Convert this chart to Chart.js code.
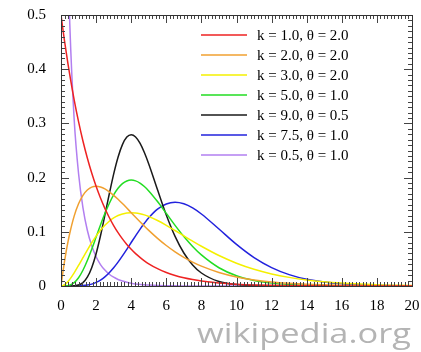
<!DOCTYPE html>
<html>
<head>
<meta charset="utf-8">
<title>Gamma distribution pdf</title>
<script src="https://cdn.jsdelivr.net/npm/chart.js@4"></script>
<style>
  html, body { margin: 0; padding: 0; background: #fff; }
  #wrap { width: 421px; height: 352px; position: relative; }
</style>
</head>
<body>
<div id="wrap"><canvas id="gamma-chart" width="421" height="352"></canvas></div>
<script>
// values
const xs = [0, 0.1, 0.2, 0.3, 0.4, 0.5, 0.75, 1, 1.25, 1.5, 1.75, 2, 2.25, 2.5, 2.75, 3, 3.25, 3.5, 3.75, 4,
    4.25, 4.5, 4.75, 5, 5.5, 6, 6.5, 7, 7.5, 8, 9, 10, 11, 12, 13, 14, 16, 18, 20];

const k1t2 = [0.5, 0.4756, 0.4524, 0.4304, 0.4094, 0.3894, 0.3436, 0.3033, 0.2676, 0.2362, 0.2084, 0.1839, 0.1623,
    0.1433, 0.1264, 0.1116, 0.0985, 0.0869, 0.0767, 0.0677, 0.0597, 0.0527, 0.0465, 0.0410, 0.0320, 0.0249,
    0.0194, 0.0151, 0.0118, 0.0092, 0.0056, 0.0034, 0.0020, 0.0012, 0.0008, 0.0005, 0.0002, 0.0001, 0];
const k2t2 = [0, 0.0238, 0.0452, 0.0646, 0.0819, 0.0974, 0.1289, 0.1516, 0.1673, 0.1771, 0.1824, 0.1839, 0.1826,
    0.1791, 0.1738, 0.1673, 0.1600, 0.1521, 0.1438, 0.1353, 0.1269, 0.1186, 0.1105, 0.1026, 0.0879, 0.0747,
    0.0630, 0.0528, 0.0441, 0.0366, 0.0250, 0.0168, 0.0112, 0.0074, 0.0049, 0.0032, 0.0013, 0.0006, 0.0002];
const k3t2 = [0, 0.0006, 0.0023, 0.0048, 0.0082, 0.0122, 0.0242, 0.0379, 0.0523, 0.0664, 0.0798, 0.0920, 0.1027,
    0.1119, 0.1195, 0.1255, 0.1300, 0.1330, 0.1348, 0.1353, 0.1348, 0.1334, 0.1312, 0.1283, 0.1209, 0.1120,
    0.1024, 0.0925, 0.0827, 0.0733, 0.0562, 0.0421, 0.0309, 0.0223, 0.0159, 0.0112, 0.0054, 0.0025, 0.0011];
const k5t1 = [0, 0, 0.0001, 0.0003, 0.0007, 0.0016, 0.0062, 0.0153, 0.0291, 0.0471, 0.0679, 0.0902, 0.1126,
    0.1336, 0.1523, 0.1680, 0.1802, 0.1888, 0.1938, 0.1954, 0.1939, 0.1898, 0.1835, 0.1755, 0.1558, 0.1339,
    0.1118, 0.0912, 0.0729, 0.0573, 0.0337, 0.0189, 0.0102, 0.0053, 0.0027, 0.0013, 0.0003, 0.0001, 0];
const k9t05 = [0, 0, 0, 0, 0, 0, 0.0003, 0.0017, 0.0062, 0.0162, 0.0337, 0.0595, 0.0927,
    0.1306, 0.1697, 0.2065, 0.2376, 0.2608, 0.2747, 0.2792, 0.2750, 0.2635, 0.2463, 0.2252, 0.1776, 0.1310,
    0.0915, 0.0609, 0.0389, 0.0240, 0.0083, 0.0026, 0.0008, 0.0002, 0.0001, 0, 0, 0, 0];
const k75t1 = [0, 0, 0, 0, 0, 0, 0, 0.0002, 0.0007, 0.0017, 0.0035, 0.0066, 0.0110,
    0.0169, 0.0245, 0.0336, 0.0440, 0.0555, 0.0677, 0.0802, 0.0926, 0.1046, 0.1157, 0.1258, 0.1418, 0.1514,
    0.1545, 0.1517, 0.1441, 0.1329, 0.1051, 0.0767, 0.0524, 0.0340, 0.0210, 0.0125, 0.0040, 0.0012, 0.0003];
const k05t1 = [null, 1.6143, 1.0329, 0.7631, 0.5980, 0.4839, 0.3077, 0.2076, 0.1446, 0.1028, 0.0741, 0.0540, 0.0396,
    0.0293, 0.0217, 0.0162, 0.0121, 0.0091, 0.0069, 0.0052, 0.0039, 0.0030, 0.0022, 0.0017, 0.0010, 0.0006,
    0.0003, 0.0002, 0.0001, 0.0001, 0, 0, 0, 0, 0, 0, 0, 0, 0];

const seriesLabels = ["k = 1.0, θ = 2.0", "k = 2.0, θ = 2.0", "k = 3.0, θ = 2.0", "k = 5.0, θ = 1.0",
    "k = 9.0, θ = 0.5", "k = 7.5, θ = 1.0", "k = 0.5, θ = 1.0"];
const seriesValues = [k1t2, k2t2, k3t2, k5t1, k9t05, k75t1, k05t1];
const seriesColors = ["#ee2222", "#f0a030", "#f4f000", "#22dd22", "#1a1a1a", "#2222dd", "#b27ff0"];

const xTicks = [0, 2, 4, 6, 8, 10, 12, 14, 16, 18, 20];
const yTicks = [0, 0.1, 0.2, 0.3, 0.4, 0.5];

const serif = "'Liberation Serif', 'Times New Roman', serif";

// gnuplot style frame with inward ticks on all four sides
const frameTicks = {
    id: "frameTicks",
    afterDatasetsDraw(chart) {
        const ctx = chart.ctx;
        const a = chart.chartArea;
        const xs_ = chart.scales.x;
        const ys_ = chart.scales.y;
        ctx.save();
        ctx.strokeStyle = "#444";
        ctx.lineWidth = 1;
        ctx.beginPath();
        // minor x every 0.2, minor y every 0.01
        for (let i = 0; i <= 100; i++) {
            const px = Math.round(xs_.getPixelForValue(i * 0.2)) + 0.5;
            const len = i % 10 === 0 ? 8 : 4;
            ctx.moveTo(px, a.bottom);
            ctx.lineTo(px, a.bottom - len);
            ctx.moveTo(px, a.top);
            ctx.lineTo(px, a.top + len);
        }
        for (let i = 0; i <= 50; i++) {
            const py = Math.round(ys_.getPixelForValue(i * 0.01)) + 0.5;
            const len = i % 10 === 0 ? 8 : 4;
            ctx.moveTo(a.left, py);
            ctx.lineTo(a.left + len, py);
            ctx.moveTo(a.right, py);
            ctx.lineTo(a.right - len, py);
        }
        ctx.stroke();
        ctx.strokeStyle = "#333";
        ctx.strokeRect(Math.round(a.left) + 0.5, Math.round(a.top) + 0.5,
            Math.round(a.right - a.left), Math.round(a.bottom - a.top));
        ctx.restore();
    }
};

const innerLegend = {
    id: "innerLegend",
    afterDraw(chart) {
        const ctx = chart.ctx;
        const a = chart.chartArea;
        ctx.save();
        ctx.font = "15px " + serif;
        ctx.textBaseline = "middle";
        ctx.fillStyle = "#000";
        chart.data.datasets.forEach((ds, i) => {
            const y = a.top + 20 + i * 20;
            ctx.strokeStyle = ds.borderColor;
            ctx.lineWidth = 1.5;
            ctx.beginPath();
            ctx.moveTo(a.left + 140, y);
            ctx.lineTo(a.left + 186, y);
            ctx.stroke();
            ctx.fillText(ds.label, a.left + 196, y + 1);
        });
        // watermark, stretched to its width
        ctx.fillStyle = "#b4b4b4";
        ctx.font = "27px 'Open Sans', sans-serif";
        ctx.textBaseline = "alphabetic";
        const txt = "wikipedia.org";
        const w = ctx.measureText(txt).width;
        ctx.translate(197, 343);
        ctx.scale(214 / w, 1);
        ctx.fillText(txt, 0, 0);
        ctx.restore();
    }
};

const gammaChartCanvas = document.getElementById("gamma-chart");
const gammaChart = new Chart(gammaChartCanvas, {
    type: "line",
    data: {
        datasets: seriesLabels.map((label, i) => ({
            label: label,
            data: xs.map((x, j) => ({ x: x, y: seriesValues[i][j] })),
            borderColor: seriesColors[i],
            borderWidth: 1.5,
            pointRadius: 0,
            fill: false,
            cubicInterpolationMode: "monotone"
        }))
    },
    options: {
        responsive: false,
        animation: false,
        layout: { padding: { top: 15, right: 9, left: 0, bottom: 0 } },
        plugins: {
            legend: { display: false },
            tooltip: { enabled: false }
        },
        scales: {
            x: {
                type: "linear",
                min: 0,
                max: 20,
                afterFit: s => {
                    s.height = 66;
                    s.paddingLeft = 0;
                    s.paddingRight = 0;
                },
                afterBuildTicks: s => { s.ticks = xTicks.map(v => ({ value: v })); },
                grid: { display: false, drawTicks: false },
                border: { display: false },
                ticks: {
                    padding: 11,
                    color: "#000",
                    font: { family: serif, size: 15 },
                    maxRotation: 0
                }
            },
            y: {
                type: "linear",
                min: 0,
                max: 0.5,
                afterFit: s => {
                    s.width = 61;
                    s.paddingTop = 0;
                    s.paddingBottom = 0;
                },
                afterBuildTicks: s => { s.ticks = yTicks.map(v => ({ value: v })); },
                grid: { display: false, drawTicks: false },
                border: { display: false },
                ticks: {
                    padding: 15,
                    color: "#000",
                    font: { family: serif, size: 15 },
                    callback: v => String(Math.round(v * 10) / 10)
                }
            }
        }
    },
    plugins: [frameTicks, innerLegend]
});
</script>
</body>
</html>
